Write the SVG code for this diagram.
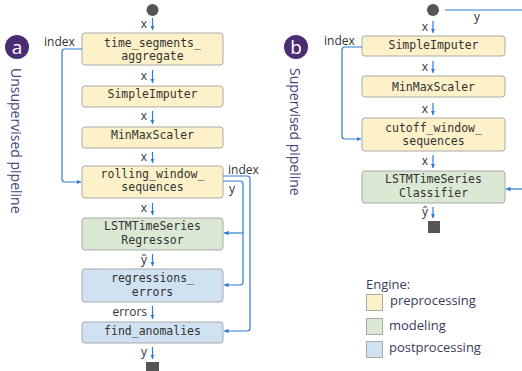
<svg xmlns="http://www.w3.org/2000/svg" width="522" height="371" viewBox="0 0 522 371">
<defs>
<marker id="ah" markerWidth="6" markerHeight="6" refX="4.5" refY="3" orient="auto" markerUnits="userSpaceOnUse">
<path d="M0,0.8 L4.5,3 L0,5.2 Z" fill="#2e7dd1"/>
</marker>
</defs>
<style>
.pre{fill:#fdf1c9;stroke:#a9a9a9;stroke-width:1}
.mod{fill:#dae8d4;stroke:#a9a9a9;stroke-width:1}
.post{fill:#d0e1f2;stroke:#a9a9a9;stroke-width:1}
.nt{font-family:"DejaVu Sans Mono",monospace;font-size:11.5px;fill:#333;text-anchor:middle}
.lb{font-family:"Open Sans","Noto Sans",sans-serif;font-size:12px;fill:#333}
.ln{fill:none;stroke:#2e7dd1;stroke-width:1.2}
.ar{fill:none;stroke:#2e7dd1;stroke-width:1.2;marker-end:url(#ah)}
.lg{font-family:"Open Sans","Noto Sans",sans-serif;font-size:13px;fill:#3b3b5c}
.side{font-family:"Open Sans","Noto Sans",sans-serif;font-size:14px;fill:#45457a}
.badge{fill:#4b2d73}
.bt{font-family:"Open Sans","Noto Sans",sans-serif;font-size:19px;fill:#fff;text-anchor:middle}
.term{fill:#555}
</style>

<!-- badges and side titles -->
<g id="badge-a"><circle class="badge" cx="17" cy="47" r="12"/><text class="bt" x="17" y="54">a</text></g>
<text class="side" transform="translate(11,68) rotate(90)">Unsupervised pipeline</text>
<g id="badge-b"><circle class="badge" cx="296" cy="47" r="12"/><text class="bt" x="296" y="54">b</text></g>
<text class="side" transform="translate(290,68) rotate(90)">Supervised pipeline</text>

<!-- Pipeline a -->
<g id="a-start"><circle class="term" cx="152.5" cy="10" r="6"/></g>
<g id="a-time_segments_aggregate"><rect class="pre" x="82" y="33" width="141" height="32" rx="3"/><text class="nt" x="152.5" y="47">time_segments_</text><text class="nt" x="152.5" y="60">aggregate</text></g>
<g id="a-SimpleImputer"><rect class="pre" x="82" y="86" width="141" height="21" rx="3"/><text class="nt" x="152.5" y="98">SimpleImputer</text></g>
<g id="a-MinMaxScaler"><rect class="pre" x="82" y="127" width="141" height="21" rx="3"/><text class="nt" x="152.5" y="139">MinMaxScaler</text></g>
<g id="a-rolling_window_sequences"><rect class="pre" x="82" y="166" width="141" height="32" rx="3"/><text class="nt" x="152.5" y="178">rolling_window_</text><text class="nt" x="152.5" y="191">sequences</text></g>
<g id="a-LSTMTimeSeriesRegressor"><rect class="mod" x="82" y="218" width="141" height="32" rx="3"/><text class="nt" x="152.5" y="230">LSTMTimeSeries</text><text class="nt" x="152.5" y="244">Regressor</text></g>
<g id="a-regressions_errors"><rect class="post" x="82" y="269" width="141" height="33" rx="3"/><text class="nt" x="152.5" y="282">regressions_</text><text class="nt" x="152.5" y="296">errors</text></g>
<g id="a-find_anomalies"><rect class="post" x="82" y="322" width="141" height="21" rx="3"/><text class="nt" x="152.5" y="335">find_anomalies</text></g>
<g id="a-end"><rect class="term" x="146" y="362" width="13" height="10"/></g>

<!-- Pipeline b -->
<g id="b-start"><circle class="term" cx="433" cy="10" r="6"/></g>
<g id="b-SimpleImputer"><rect class="pre" x="362" y="36" width="143" height="20" rx="3"/><text class="nt" x="433.5" y="49">SimpleImputer</text></g>
<g id="b-MinMaxScaler"><rect class="pre" x="362" y="76" width="143" height="21" rx="3"/><text class="nt" x="433.5" y="91">MinMaxScaler</text></g>
<g id="b-cutoff_window_sequences"><rect class="pre" x="362" y="118" width="143" height="33" rx="3"/><text class="nt" x="433.5" y="132">cutoff_window_</text><text class="nt" x="433.5" y="145">sequences</text></g>
<g id="b-LSTMTimeSeriesClassifier"><rect class="mod" x="362" y="171" width="143" height="32" rx="3"/><text class="nt" x="433.5" y="183">LSTMTimeSeries</text><text class="nt" x="433.5" y="197">Classifier</text></g>
<g id="b-end"><rect class="term" x="428" y="221" width="12" height="12"/></g>

<!-- connectors -->
<g id="connectors">
<path class="ar" d="M152.5,18 V30"/>
<path class="ar" d="M152.5,70 V83"/>
<path class="ar" d="M152.5,111 V124"/>
<path class="ar" d="M152.5,152 V163"/>
<path class="ar" d="M152.5,203 V215"/>
<path class="ar" d="M152.5,254 V266"/>
<path class="ar" d="M152.5,306 V319"/>
<path class="ar" d="M152.5,347 V359"/>
<path class="ar" d="M82,49 H65 Q62,49 62,52 V179 Q62,182 65,182 H81"/>
<path class="ln" d="M223,176 H247 Q250,176 250,179 V328"/>
<path class="ln" d="M223,181 H240 Q243,181 243,184 V282"/>
<path class="ar" d="M250,328 Q250,331 247,331 H224"/>
<path class="ar" d="M243,282 Q243,285 240,285 H224"/>
<path class="ar" d="M243,233 H224"/>

<path class="ar" d="M433,21 V33"/>
<path class="ar" d="M433,61 V73"/>
<path class="ar" d="M433,103 V115"/>
<path class="ar" d="M433,155 V168"/>
<path class="ar" d="M433,207 V218"/>
<path class="ar" d="M362,47 H345 Q342,47 342,50 V136 Q342,139 345,139 H361"/>
<path class="ln" d="M445,10 H522"/>
<path class="ar" d="M522,189 H506"/>
</g>

<!-- edge labels -->
<g id="labels-a">
<text class="lb" x="147" y="28" text-anchor="end">x</text>
<text class="lb" x="147" y="80" text-anchor="end">x</text>
<text class="lb" x="147" y="120" text-anchor="end">x</text>
<text class="lb" x="147" y="161" text-anchor="end">x</text>
<text class="lb" x="147" y="212" text-anchor="end">x</text>
<text class="lb" x="147" y="264" text-anchor="end">ŷ</text>
<text class="lb" x="147" y="316" text-anchor="end">errors</text>
<text class="lb" x="147" y="356" text-anchor="end">y</text>
<text class="lb" x="44" y="46">index</text>
<text class="lb" x="228" y="174">index</text>
<text class="lb" x="229" y="193">y</text>
</g>
<g id="labels-b">
<text class="lb" x="428" y="31" text-anchor="end">x</text>
<text class="lb" x="428" y="71" text-anchor="end">x</text>
<text class="lb" x="428" y="113" text-anchor="end">x</text>
<text class="lb" x="428" y="165" text-anchor="end">x</text>
<text class="lb" x="428" y="216" text-anchor="end">ŷ</text>
<text class="lb" x="324" y="45">index</text>
<text class="lb" x="474" y="21">y</text>
</g>

<!-- legend -->
<g id="legend">
<text class="lg" x="366" y="289">Engine:</text>
<rect class="pre" x="366.5" y="294.5" width="16" height="16"/>
<text class="lg" x="390" y="305">preprocessing</text>
<rect class="mod" x="366.5" y="318.5" width="16" height="16"/>
<text class="lg" x="389" y="330">modeling</text>
<rect class="post" x="366.5" y="341.5" width="16" height="16"/>
<text class="lg" x="389" y="352">postprocessing</text>
</g>
</svg>
